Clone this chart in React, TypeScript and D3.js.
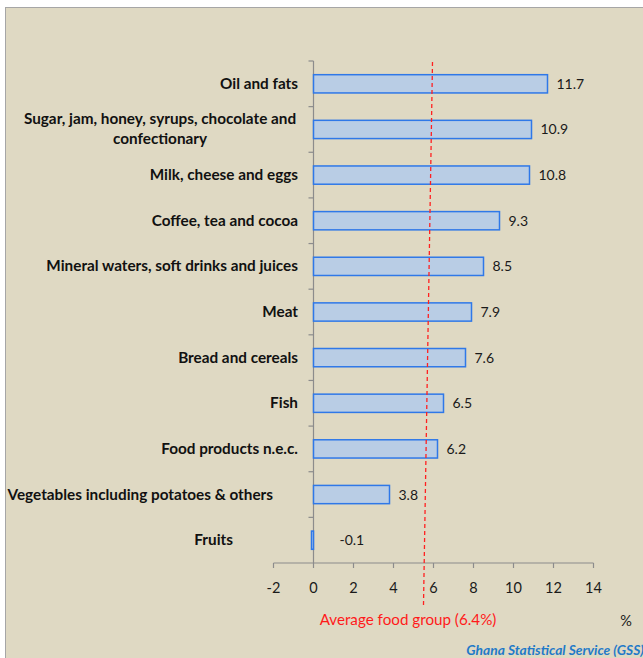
import React, { useEffect, useRef } from "react";
import * as d3 from "d3";

// Food group inflation, %
const categories = [
  "Oil and fats",
  "Sugar, jam, honey, syrups, chocolate and\nconfectionary",
  "Milk, cheese and eggs",
  "Coffee, tea and cocoa",
  "Mineral waters, soft drinks and juices",
  "Meat",
  "Bread and cereals",
  "Fish",
  "Food products n.e.c.",
  "Vegetables including potatoes & others",
  "Fruits",
];
const values = [11.7, 10.9, 10.8, 9.3, 8.5, 7.9, 7.6, 6.5, 6.2, 3.8, -0.1];
const xTicks = [-2, 0, 2, 4, 6, 8, 10, 12, 14];
const averageLine = [5.95, 5.5]; // as drawn: top, bottom
const averageLabel = "Average food group (6.4%)";
const unitLabel = "%";
const sourceLabel = "Ghana Statistical Service (GSS)";

const W = 643;
const H = 658;
const FONT = "Lato, 'Open Sans', sans-serif";

// right edge of the category labels (Excel leaves a few off the common edge)
const labelEdge: Record<string, number> = {
  "Vegetables including potatoes & others": 273,
  Fruits: 233,
};

const App = () => {
  const svgRef = useRef<SVGSVGElement>(null);

  useEffect(() => {
    const svg = d3.select(svgRef.current);
    svg.selectAll("*").remove();

    // chart area
    svg
      .append("rect")
      .attr("x", 5.5)
      .attr("y", 7.5)
      .attr("width", W)
      .attr("height", H)
      .attr("fill", "#dfd9c3")
      .attr("stroke", "#a6a6a6")
      .attr("stroke-width", 1);

    const x = d3.scaleLinear().domain([-2, 14]).range([273.5, 593.5]);
    const y = d3
      .scaleBand()
      .domain(categories)
      .range([61, 563])
      .paddingInner(0.6)
      .paddingOuter(0.3);
    const step = y.step();
    const top = 61;
    const bottom = 563;

    // y axis line with ticks at band edges
    svg
      .append("line")
      .attr("x1", x(0))
      .attr("x2", x(0))
      .attr("y1", top)
      .attr("y2", bottom)
      .attr("stroke", "#8c8c8c")
      .attr("stroke-width", 1.2);
    svg
      .append("g")
      .selectAll("line")
      .data(d3.range(categories.length))
      .join("line")
      .attr("x1", x(0) - 5)
      .attr("x2", x(0))
      .attr("y1", (i) => top + i * step)
      .attr("y2", (i) => top + i * step)
      .attr("stroke", "#8c8c8c")
      .attr("stroke-width", 1.2);

    // bars
    svg
      .append("g")
      .selectAll("rect")
      .data(values)
      .join("rect")
      .attr("x", (d) => x(Math.min(0, d)))
      .attr("y", (d, i) => y(categories[i])!)
      .attr("width", (d) => Math.abs(x(d) - x(0)))
      .attr("height", y.bandwidth())
      .attr("fill", "#b9cde5")
      .attr("stroke", "#2f78e8")
      .attr("stroke-width", 1.5);

    // value labels
    svg
      .append("g")
      .selectAll("text")
      .data(values)
      .join("text")
      .attr("x", (d) => (d < 0 ? x(0) + 26 : x(d) + 9))
      .attr("y", (d, i) => y(categories[i])! + y.bandwidth() / 2 + 5)
      .attr("font-family", FONT)
      .attr("font-size", 14)
      .attr("fill", "#1a1a1a")
      .text((d) => d.toFixed(1));

    // category labels
    categories.forEach((c, i) => {
      const lines = c.split("\n");
      const cy = y(c)! + y.bandwidth() / 2;
      const t = svg
        .append("text")
        .attr("font-family", FONT)
        .attr("font-weight", "bold")
        .attr("font-size", 15.3)
        .attr("fill", "#111");
      if (lines.length > 1) {
        t.attr("text-anchor", "middle");
        lines.forEach((l, k) => {
          t.append("tspan")
            .attr("x", 160)
            .attr("y", cy + 5 + (k - (lines.length - 1) / 2) * 20)
            .text(l);
        });
      } else {
        t.attr("text-anchor", "end")
          .attr("x", labelEdge[c] ?? 298)
          .attr("y", cy + 5)
          .text(c);
      }
    });

    // x axis
    svg
      .append("line")
      .attr("x1", x(-2))
      .attr("x2", x(14))
      .attr("y1", bottom)
      .attr("y2", bottom)
      .attr("stroke", "#8c8c8c")
      .attr("stroke-width", 1.2);
    const tick = svg.append("g").selectAll("g").data(xTicks).join("g");
    tick
      .append("line")
      .attr("x1", (d) => x(d))
      .attr("x2", (d) => x(d))
      .attr("y1", bottom)
      .attr("y2", bottom + 5)
      .attr("stroke", "#8c8c8c")
      .attr("stroke-width", 1.2);
    tick
      .append("text")
      .attr("x", (d) => x(d))
      .attr("y", bottom + 30)
      .attr("text-anchor", "middle")
      .attr("font-family", FONT)
      .attr("font-size", 14.5)
      .attr("fill", "#1a1a1a")
      .text((d) => d);

    // average line (drawn by hand in the original, slightly slanted)
    svg
      .append("line")
      .attr("x1", x(averageLine[0]))
      .attr("x2", x(averageLine[1]))
      .attr("y1", top + 1)
      .attr("y2", bottom + 42)
      .attr("stroke", "#ff2020")
      .attr("stroke-width", 1.3)
      .attr("stroke-dasharray", "4,3");

    svg
      .append("text")
      .attr("x", 408)
      .attr("y", 625)
      .attr("text-anchor", "middle")
      .attr("font-family", FONT)
      .attr("font-size", 15.2)
      .attr("fill", "#ff1a1a")
      .text(averageLabel);

    svg
      .append("text")
      .attr("x", 626)
      .attr("y", 626)
      .attr("text-anchor", "middle")
      .attr("font-family", FONT)
      .attr("font-size", 14.5)
      .attr("fill", "#1a1a1a")
      .text(unitLabel);

    svg
      .append("text")
      .attr("x", 644)
      .attr("y", 655)
      .attr("text-anchor", "end")
      .attr("font-family", FONT)
      .attr("font-size", 13.8)
      .attr("font-weight", "bold")
      .attr("font-style", "italic")
      .attr("fill", "#1f7ac8")
      .text(sourceLabel);
  }, []);

  return (
    <div style={{ position: "absolute", left: 0, top: 0, background: "#fff" }}>
      <svg ref={svgRef} width={W} height={H} style={{ display: "block" }} />
    </div>
  );
};

export default App;
